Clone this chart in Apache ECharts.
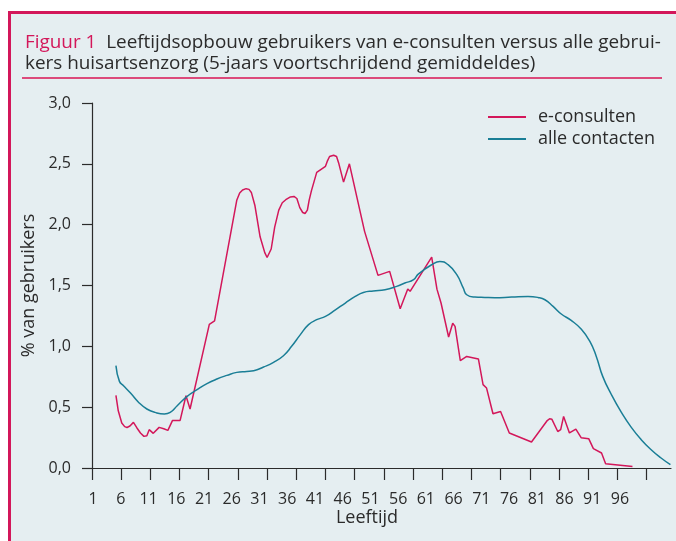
<!DOCTYPE html>
<html>
<head>
<meta charset="utf-8">
<script src="https://cdn.jsdelivr.net/npm/echarts@6/dist/echarts.min.js"></script>
<style>
  html, body { margin: 0; padding: 0; background: #fff; }
  #chart { width: 676px; height: 541px; }
</style>
</head>
<body>
<div id="chart"></div>
<script>
// e-consulten (age, % van gebruikers)
const eAges = [5.1, 5.5, 6.1, 6.6, 7.0, 7.5, 8.1, 8.7, 9.3, 9.9, 10.4, 10.8, 11.1, 11.5, 12.5, 13.3, 14.0, 14.8, 16.1, 17.1, 17.8,
  21.1, 22.0, 25.8, 26.3, 26.8, 27.4, 27.9, 28.3, 28.9, 29.8, 30.6, 31.0, 31.3, 31.7, 32.3, 33.0, 33.6, 34.2, 35.0, 35.6,
  36.1, 36.6, 37.1, 37.5, 37.9, 38.2, 38.6, 39.5, 41.0, 41.3, 41.7, 42.4, 42.9, 43.3, 44.1, 45.1, 47.7, 50.0, 52.0, 53.8,
  55.1, 55.5, 59.2, 60.1, 60.8, 62.1, 62.8, 63.2, 64.1, 65.2, 67.2, 68.0, 68.6, 69.7, 71.0, 72.5, 76.3, 79.0, 79.4, 79.8,
  80.8, 81.3, 81.8, 82.8, 83.9, 84.8, 86.1, 86.9, 88.3, 89.0, 93.6]
const eValues = [0.597, 0.47, 0.37, 0.34, 0.333, 0.345, 0.375, 0.329, 0.288, 0.26, 0.265, 0.315, 0.30, 0.285, 0.334, 0.323, 0.309, 0.391, 0.391, 0.594, 0.485,
  1.18, 1.21, 2.2, 2.26, 2.285, 2.296, 2.29, 2.265, 2.16, 1.90, 1.77, 1.73, 1.735, 1.80, 1.98, 2.12, 2.18, 2.205, 2.228, 2.232,
  2.215, 2.14, 2.10, 2.092, 2.12, 2.2, 2.28, 2.43, 2.48, 2.52, 2.56, 2.57, 2.56, 2.5, 2.35, 2.50, 1.945, 1.583, 1.616, 1.309,
  1.471, 1.452, 1.734, 1.47, 1.356, 1.077, 1.19, 1.164, 0.882, 0.917, 0.896, 0.685, 0.657, 0.446, 0.465, 0.288, 0.214, 0.39, 0.405, 0.40,
  0.30, 0.315, 0.424, 0.288, 0.32, 0.249, 0.241, 0.159, 0.123, 0.035, 0.013]

// alle contacten
const aAges = [5.1, 5.7, 6.4, 7.6, 9.0, 10.4, 11.8, 13.4, 14.4, 15.6, 17.3, 19.0, 20.7, 22.4, 24.1, 25.8, 27.5, 28.7, 30.4, 32.1,
  33.8, 35.2, 36.7, 38.1, 39.5, 41.0, 42.7, 44.4, 46.1, 47.5, 49.2, 51.2, 53.2, 54.6, 56.1, 56.9, 59.2, 60.6, 62.0, 63.5,
  64.6, 65.2, 66.6, 68.3, 70.0, 72.9, 75.7, 77.4, 78.6, 80.0, 81.4, 83.1, 84.8, 86.3, 87.4, 88.5, 90.0, 91.7, 93.4, 95.1,
  96.8, 98.5, 100.1]
const aValues = [0.841, 0.712, 0.676, 0.616, 0.539, 0.485, 0.457, 0.444, 0.457, 0.512, 0.589, 0.644, 0.693, 0.731, 0.761, 0.786, 0.794, 0.80, 0.83, 0.868,
  0.923, 1.0, 1.096, 1.178, 1.219, 1.246, 1.30, 1.356, 1.41, 1.443, 1.455, 1.465, 1.493, 1.52, 1.548, 1.594, 1.671, 1.698, 1.671, 1.589,
  1.48, 1.424, 1.405, 1.402, 1.40, 1.405, 1.41, 1.402, 1.383, 1.328, 1.266, 1.213, 1.142, 1.041, 0.917, 0.753, 0.602, 0.457, 0.334, 0.233,
  0.15, 0.082, 0.027]

const xTicks = [1, 6, 11, 16, 21, 26, 31, 36, 41, 46, 51, 56, 61, 66, 71, 76, 81, 86, 91, 96]
const seriesNames = ['e-consulten', 'alle contacten']

const RED = '#d3175a'
const TEAL = '#1a7e96'
const INK = '#2b2b2b'
const FONT = 'Open Sans'

const zip = (xs, ys) => xs.map((x, i) => [x, ys[i]])

const chart = echarts.init(document.getElementById('chart'))

chart.setOption({
  backgroundColor: '#fff',
  animation: false,
  textStyle: { fontFamily: FONT, color: INK },
  title: {
    left: 20,
    top: 27,
    text: '{red|Figuur 1}  Leeftijdsopbouw gebruikers van e-consulten versus alle gebrui-\nkers huisartsenzorg (5-jaars voortschrijdend gemiddeldes)',
    textStyle: {
      fontFamily: FONT, fontSize: 18.9, fontWeight: 'normal', color: INK, lineHeight: 21,
      rich: { red: { fontFamily: FONT, fontSize: 18.9, color: RED, lineHeight: 21 } }
    }
  },
  graphic: [
    { type: 'rect', z: -10, shape: { x: 8, y: 11, width: 668, height: 530 }, style: { fill: '#e5eef1' } },
    { type: 'rect', shape: { x: 8, y: 11, width: 668, height: 3 }, style: { fill: RED } },
    { type: 'rect', shape: { x: 8, y: 11, width: 3, height: 530 }, style: { fill: RED } },
    { type: 'rect', shape: { x: 22, y: 77, width: 640, height: 2 }, style: { fill: '#dc4a7b' } },
    { type: 'text', x: 367, y: 518, style: { text: 'Leeftijd', font: '18px "Open Sans"', fill: INK, align: 'center', verticalAlign: 'middle' } }
  ],
  legend: {
    orient: 'vertical',
    left: 483,
    top: 102,
    itemWidth: 38,
    itemHeight: 2,
    itemGap: 2,
    icon: 'rect',
    data: seriesNames,
    textStyle: { fontFamily: FONT, fontSize: 18, color: INK, lineHeight: 20, padding: [0, 0, 0, 7] }
  },
  grid: { left: 92, right: 5, top: 103, bottom: 73 },
  xAxis: [
    {
      type: 'value',
      min: 1,
      max: 100.2,
      position: 'bottom',
      axisLine: { lineStyle: { color: INK, width: 1.2 } },
      axisTick: { show: true, length: 12, customValues: xTicks, lineStyle: { color: INK, width: 1.2 } },
      axisLabel: { show: false },
      splitLine: { show: false }
    },
    {
      // the printed labels sit slightly off the ticks, so they get their own axis
      type: 'value',
      min: 0.8,
      max: 105.2,
      position: 'bottom',
      axisLine: { show: false },
      axisTick: { show: false },
      axisLabel: { customValues: xTicks, margin: 23, fontFamily: FONT, fontSize: 16, color: INK },
      splitLine: { show: false }
    }
  ],
  yAxis: {
    type: 'value',
    min: 0,
    max: 3,
    interval: 0.5,
    name: '% van gebruikers',
    nameLocation: 'middle',
    nameGap: 50,
    nameTextStyle: { fontFamily: FONT, fontSize: 18, color: INK },
    axisLine: { show: true, lineStyle: { color: INK, width: 1.2 } },
    axisTick: { show: true, length: 10, lineStyle: { color: INK, width: 1.2 } },
    axisLabel: {
      margin: 21, fontFamily: FONT, fontSize: 16, color: INK,
      formatter: v => v.toFixed(1).replace('.', ',')
    },
    splitLine: { show: false }
  },
  series: [
    {
      name: seriesNames[0],
      type: 'line',
      data: zip(eAges, eValues),
      symbol: 'none',
      smooth: false,
      lineStyle: { color: RED, width: 1.5 },
      itemStyle: { color: RED }
    },
    {
      name: seriesNames[1],
      type: 'line',
      data: zip(aAges, aValues),
      symbol: 'none',
      smooth: 0.5,
      lineStyle: { color: TEAL, width: 1.5 },
      itemStyle: { color: TEAL }
    }
  ]
})
</script>
</body>
</html>
